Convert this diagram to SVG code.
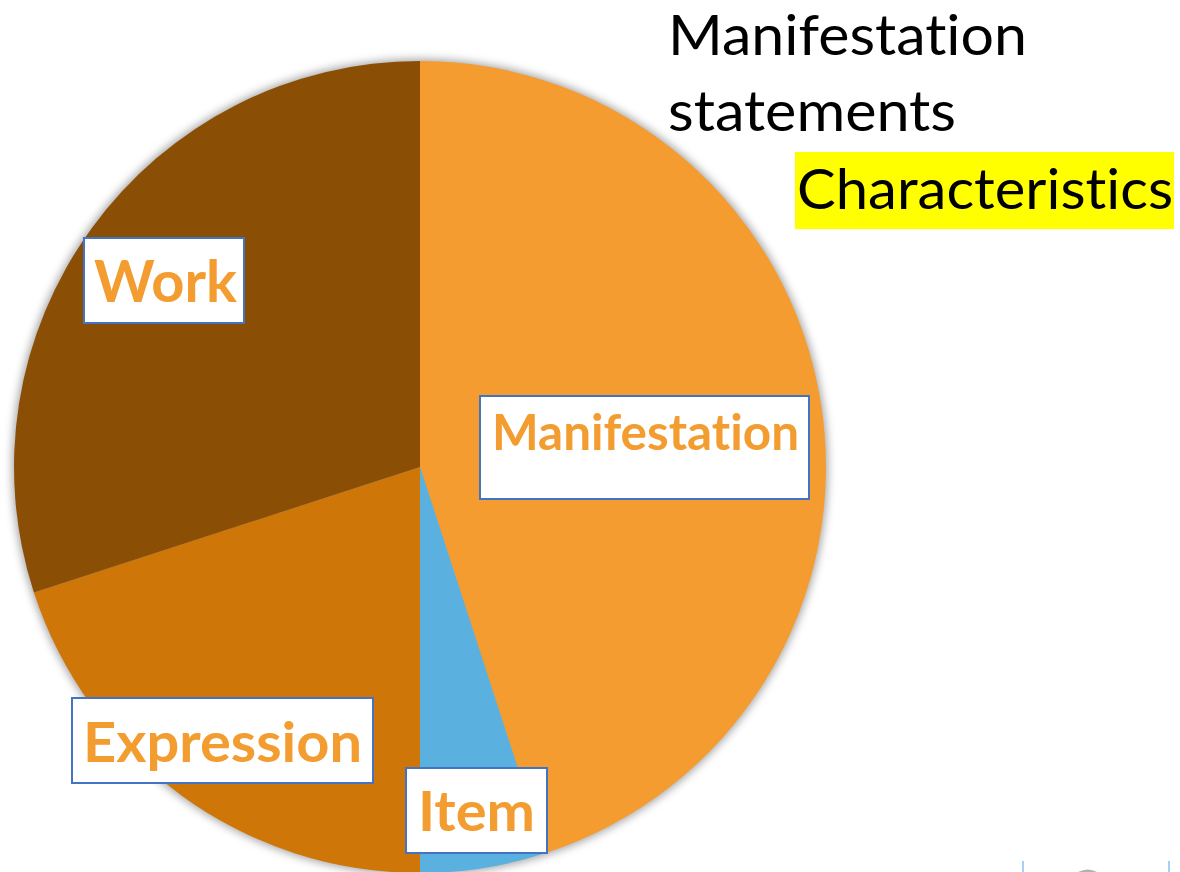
<svg xmlns="http://www.w3.org/2000/svg" width="1180" height="872" viewBox="0 0 1180 872">
  <defs>
    <filter id="glow" x="-10%" y="-10%" width="120%" height="120%">
      <feGaussianBlur stdDeviation="4"/>
    </filter>
    <style>
      text { font-variant-ligatures: no-common-ligatures no-discretionary-ligatures no-historical-ligatures no-contextual; font-feature-settings: "liga" 0, "clig" 0, "calt" 0, "dlig" 0; }
      .lbl-box { fill: #FFFFFF; stroke: #4472C4; stroke-width: 2; }
      .lbl { font-family: Lato, "Open Sans", "Liberation Sans", sans-serif; font-weight: 700; fill: #F39C30; }
      .note { font-family: Lato, "Open Sans", "Liberation Sans", sans-serif; font-weight: 400; fill: #000000; font-size: 56px; }
    </style>
  </defs>
  <rect width="1180" height="872" fill="#FFFFFF"/>

  <!-- pie shadow -->
  <circle cx="420" cy="467" r="408" fill="#000000" fill-opacity="0.35" filter="url(#glow)"/>

  <g id="slice-manifestation">
    <path d="M420,467 L420,61 A406,406 0 0 1 545.5,853.1 Z" fill="#F49C2F"/>
  </g>
  <g id="slice-item">
    <path d="M420,467 L545.5,853.1 A406,406 0 0 1 420,873 Z" fill="#5AB0DF"/>
  </g>
  <g id="slice-expression">
    <path d="M420,467 L420,873 A406,406 0 0 1 33.9,592.5 Z" fill="#CE7608"/>
  </g>
  <g id="slice-work">
    <path d="M420,467 L33.9,592.5 A406,406 0 0 1 420,61 Z" fill="#8A4F05"/>
  </g>

  <g id="connectors"></g>

  <g id="label-work">
    <rect class="lbl-box" x="84" y="238" width="160" height="85"/>
    <text class="lbl" x="94" y="302" font-size="57" textLength="143" lengthAdjust="spacingAndGlyphs">Work</text>
  </g>
  <g id="label-manifestation">
    <rect class="lbl-box" x="480" y="396" width="329" height="103"/>
    <text class="lbl" x="492" y="450" font-size="49" textLength="307" lengthAdjust="spacingAndGlyphs">Manifestation</text>
  </g>
  <g id="label-expression">
    <rect class="lbl-box" x="72" y="698" width="301" height="85"/>
    <text class="lbl" x="83" y="762" font-size="56" textLength="279" lengthAdjust="spacingAndGlyphs">Expression</text>
  </g>
  <g id="label-item">
    <rect class="lbl-box" x="406" y="768" width="141" height="85"/>
    <text class="lbl" x="418" y="831" font-size="56" textLength="117" lengthAdjust="spacingAndGlyphs">Item</text>
  </g>

  <g id="note-manifestation-statements">
    <text class="note" x="668" y="55" textLength="359" lengthAdjust="spacingAndGlyphs">Manifestation</text>
    <text class="note" x="668" y="131" textLength="288" lengthAdjust="spacingAndGlyphs">statements</text>
  </g>
  <g id="note-characteristics">
    <rect x="795" y="152" width="379" height="77" fill="#FFFF00"/>
    <text class="note" x="797" y="209" font-size="58" textLength="376" lengthAdjust="spacingAndGlyphs">Characteristics</text>
  </g>

  <g id="cutoff-fragment">
    <line x1="1023" y1="861" x2="1023" y2="872" stroke="#8DBEF5" stroke-width="1.5"/>
    <line x1="1169" y1="861" x2="1169" y2="872" stroke="#8DBEF5" stroke-width="1.5"/>
    <path d="M1078,872 Q1088,867 1097,872 Z" fill="#B0B0B8"/>
  </g>
</svg>
